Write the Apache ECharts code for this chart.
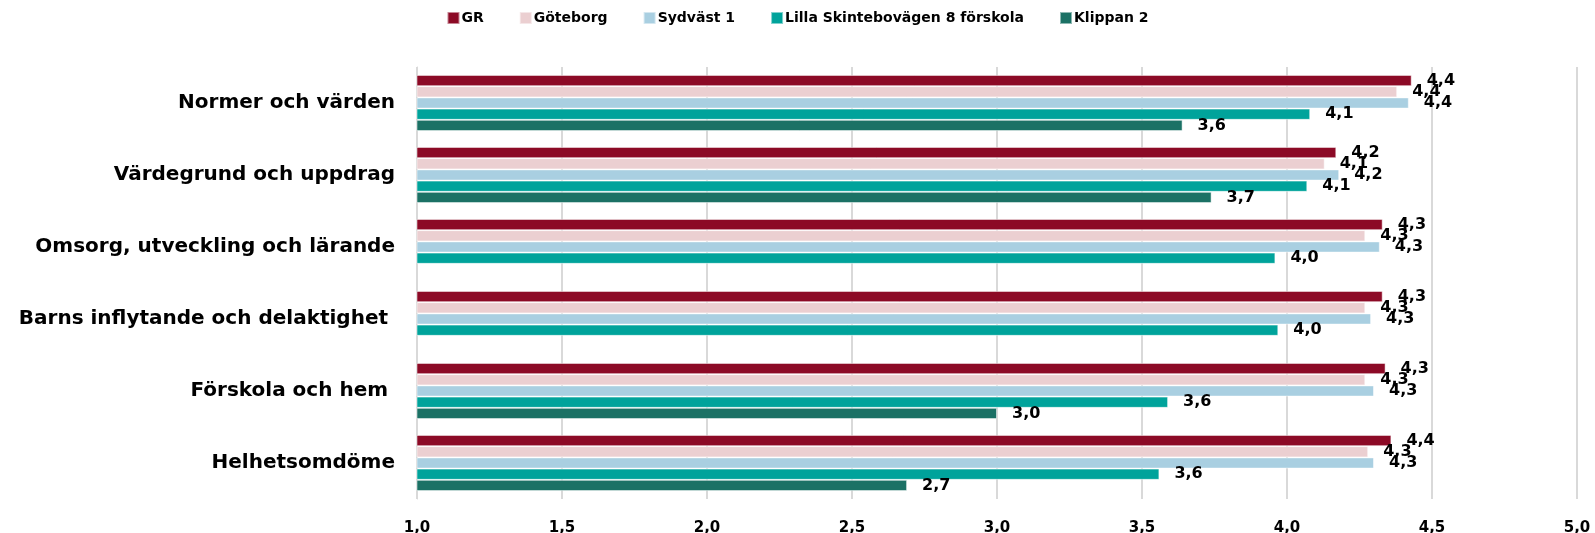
<!DOCTYPE html>
<html lang="sv">
<head>
    <meta charset="UTF-8">
    <title>Förskola</title>
    <script src="https://cdn.jsdelivr.net/npm/echarts@6/dist/echarts.min.js"></script>
    <style>
        body { margin: 0; background: #fff; }
        #main { width: 1595px; height: 533px; }
    </style>
</head>
<body>
    <div id="main"></div>
    <script type="text/javascript">
        // områden (uppifrån och ner)
        var categories = [
            'Normer och värden',
            'Värdegrund och uppdrag',
            'Omsorg, utveckling och lärande',
            'Barns inflytande och delaktighet ',
            'Förskola och hem ',
            'Helhetsomdöme'
        ];
        var seriesNames = ['GR', 'Göteborg', 'Sydväst 1', 'Lilla Skintebovägen 8 förskola', 'Klippan 2'];
        var gr       = [4.43, 4.17, 4.33, 4.33, 4.34, 4.36];
        var goteborg = [4.38, 4.13, 4.27, 4.27, 4.27, 4.28];
        var sydvast  = [4.42, 4.18, 4.32, 4.29, 4.30, 4.30];
        var lilla    = [4.08, 4.07, 3.96, 3.97, 3.59, 3.56];
        var klippan  = [3.64, 3.74, null, null, 3.00, 2.69];
        var xTicks = [1.0, 1.5, 2.0, 2.5, 3.0, 3.5, 4.0, 4.5, 5.0];

        var colors = ['#8C0A26', '#EBCFD1', '#A9CFE1', '#00A39B', '#1B7165'];
        var values = [gr, goteborg, sydvast, lilla, klippan];
        var font = 'DejaVu Sans';

        function komma(v) {
            return v.toFixed(1).replace('.', ',');
        }

        var myChart = echarts.init(document.getElementById('main'));
        var option = {
            backgroundColor: '#fff',
            color: colors,
            legend: {
                top: 6,
                left: 'center',
                itemWidth: 12,
                itemHeight: 12,
                itemGap: 35,
                icon: 'rect',
                textStyle: {
                    fontFamily: font,
                    fontWeight: 'bold',
                    fontSize: 14,
                    color: '#000',
                    padding: [0, 0, 0, -3]
                },
                data: seriesNames
            },
            grid: {
                left: 417,
                right: 18,
                top: 67,
                bottom: 34,
                outerBoundsMode: 'none'
            },
            xAxis: {
                type: 'value',
                min: xTicks[0],
                max: xTicks[xTicks.length - 1],
                interval: 0.5,
                axisLine: { show: false },
                axisTick: { show: false },
                splitLine: {
                    lineStyle: { color: '#D9D9D9', width: 2 }
                },
                axisLabel: {
                    margin: 22,
                    fontFamily: font,
                    fontWeight: 'bold',
                    fontSize: 15,
                    color: '#000',
                    formatter: function (v) { return komma(v); }
                }
            },
            yAxis: {
                type: 'category',
                inverse: true,
                data: categories,
                axisLine: { lineStyle: { color: '#D9D9D9', width: 1 } },
                axisTick: { length: 7, lineStyle: { color: '#D9D9D9' } },
                axisLabel: {
                    margin: 22,
                    fontFamily: font,
                    fontWeight: 'bold',
                    fontSize: 20,
                    color: '#000'
                }
            },
            series: values.map(function (data, i) {
                return {
                    name: seriesNames[i],
                    type: 'bar',
                    data: data,
                    barGap: '0%',
                    barCategoryGap: '22%',
                    itemStyle: {
                        borderColor: 'rgba(255,255,255,0.5)',
                        borderWidth: 1
                    },
                    label: {
                        show: true,
                        position: 'right',
                        distance: 15,
                        fontFamily: font,
                        fontWeight: 'bold',
                        fontSize: 16,
                        color: '#000',
                        formatter: function (p) { return komma(p.value); }
                    }
                };
            })
        };
        myChart.setOption(option);
    </script>
</body>
</html>
